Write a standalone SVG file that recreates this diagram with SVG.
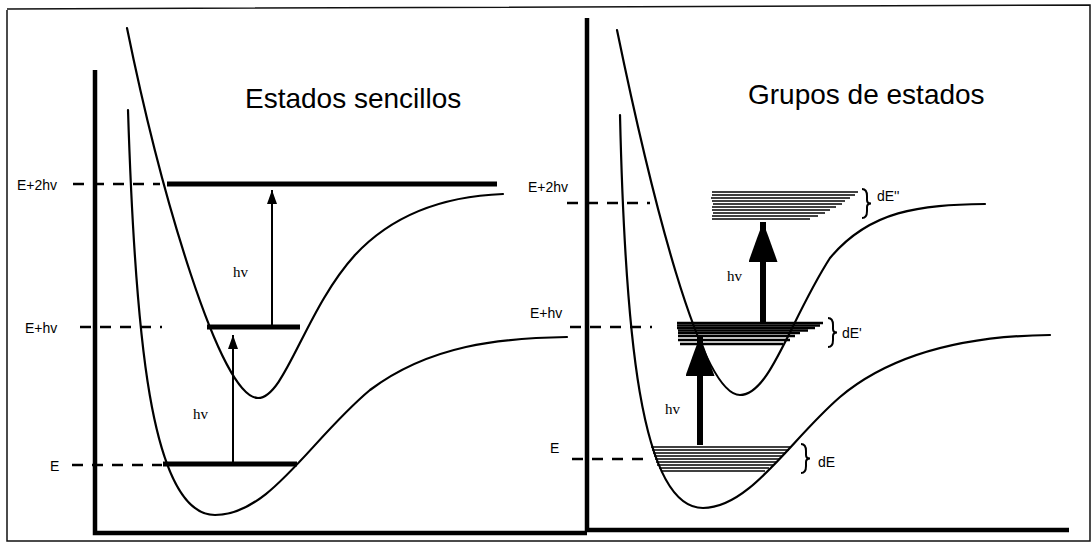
<svg xmlns="http://www.w3.org/2000/svg" width="1091" height="545" viewBox="0 0 1091 545">
<defs>
<style>
.frame{fill:none;stroke:#111;stroke-width:1.5}
.axis{fill:none;stroke:#000;stroke-width:4.5;stroke-linecap:butt}
.curve{fill:none;stroke:#000;stroke-width:2.2;stroke-linecap:round}
.level{fill:none;stroke:#000;stroke-width:5}
.dash{fill:none;stroke:#000;stroke-width:2.5;stroke-dasharray:11 9}
.band line{stroke:#000;stroke-width:1.6}
.dense line{stroke:#000;stroke-width:2.4}
.thin{fill:none;stroke:#000;stroke-width:2}
.thick{fill:none;stroke:#000;stroke-width:6}
.brace{fill:none;stroke:#000;stroke-width:2}
.lbl{font-family:"Liberation Sans",Arial,sans-serif;font-size:14px;fill:#000}
.hv{font-family:"Liberation Serif","Times New Roman",serif;font-size:15px;fill:#000}
.title{font-family:"Liberation Sans",Arial,sans-serif;font-size:28px;fill:#000}
</style>
<marker id="ah-thin" viewBox="0 0 14 10" refX="14" refY="5" markerWidth="14" markerHeight="10" markerUnits="userSpaceOnUse" orient="auto">
<path d="M0,0 L14,5 L0,10 z" fill="#000"/>
</marker>
<marker id="ah-thick" viewBox="0 0 40 29" refX="40" refY="14.5" markerWidth="40" markerHeight="29" markerUnits="userSpaceOnUse" orient="auto">
<path d="M0,0 Q20,7 40,14.5 Q20,22 0,29 z" fill="#000"/>
</marker>
</defs>
<rect width="1091" height="545" fill="#fff"/>
<g id="frame">
<path class="frame" d="M7,10 L7,541 L1090,541 L1090,5 L7,9"/>
</g>
<g id="panel-left">
<path class="axis" d="M95,70 L95,533 L587,533"/>
<text class="title" x="245" y="108">Estados sencillos</text>
<path id="left-upper-curve" class="curve" d="M127,28 C160,190 220,398 258,398 C285,398 305,310 355,255 C395,212 450,196 503,194"/>
<path id="left-lower-curve" class="curve" d="M128,110 C135,330 150,515 215,515 C270,515 310,440 370,390 C430,345 500,338 567,337"/>
</g>
<g id="left-level-E2hv">
<text class="lbl" x="17" y="190">E+2hv</text>
<line class="dash" x1="73" y1="184" x2="160" y2="184"/>
<line class="level" x1="167" y1="184" x2="497" y2="184"/>
</g>
<g id="left-level-Ehv">
<text class="lbl" x="25" y="333">E+hv</text>
<line class="dash" x1="80" y1="327" x2="162" y2="327"/>
<line class="level" x1="207" y1="327" x2="300" y2="327"/>
</g>
<g id="left-level-E">
<text class="lbl" x="50" y="471">E</text>
<line class="dash" x1="72" y1="465" x2="162" y2="465"/>
<line class="level" x1="163" y1="464" x2="297" y2="464"/>
</g>
<g id="panel-right">
<path class="axis" d="M587,18 L587,530 L1069,530"/>
<text class="title" x="748" y="104">Grupos de estados</text>
<path id="right-upper-curve" class="curve" d="M617,30 C650,190 700,395 740,395 C770,395 790,320 830,258 C870,210 920,205 985,204"/>
<path id="right-lower-curve" class="curve" d="M620,115 C625,330 640,508 703,508 C750,508 790,440 840,397 C890,355 960,336 1050,335"/>
</g>
<g id="right-level-E2hv">
<text class="lbl" x="528" y="192">E+2hv</text>
<line class="dash" x1="567" y1="203" x2="650" y2="203"/>
<g class="band">
<line x1="712" y1="192" x2="858" y2="192"/>
<line x1="712" y1="195" x2="855" y2="195"/>
<line x1="711" y1="198" x2="850" y2="198"/>
<line x1="712" y1="201" x2="845" y2="201"/>
<line x1="713" y1="204" x2="842" y2="204"/>
<line x1="712" y1="207" x2="836" y2="207"/>
<line x1="712" y1="210" x2="830" y2="210"/>
<line x1="713" y1="213" x2="825" y2="213"/>
<line x1="712" y1="216" x2="818" y2="216"/>
<line x1="712" y1="219" x2="810" y2="219"/>
</g>
<path class="brace" d="M862,189 Q867,189 867,196 L867,200 Q867,203.5 871,203.5 Q867,203.5 867,207 L867,211 Q867,218 862,218"/>
<text class="lbl" x="877" y="201">dE''</text>
</g>
<g id="right-level-Ehv">
<text class="lbl" x="530" y="318">E+hv</text>
<line class="dash" x1="570" y1="327" x2="652" y2="327"/>
<g class="dense">
<line x1="677" y1="323" x2="823" y2="323"/>
<line x1="677" y1="325.5" x2="820" y2="325.5"/>
<line x1="677" y1="328" x2="815" y2="328"/>
<line x1="678" y1="330.5" x2="808" y2="330.5"/>
<line x1="678" y1="333" x2="800" y2="333"/>
<line x1="678" y1="336" x2="795" y2="336"/>
<line x1="678" y1="340" x2="790" y2="340"/>
<line x1="680" y1="344" x2="783" y2="344"/>
</g>
<path class="brace" d="M828,318 Q833,318 833,325 L833,329 Q833,332.5 837,332.5 Q833,332.5 833,336 L833,340 Q833,347 828,347"/>
<text class="lbl" x="842" y="338">dE'</text>
</g>
<g id="right-level-E">
<text class="lbl" x="550" y="453">E</text>
<line class="dash" x1="572" y1="459" x2="650" y2="459"/>
<g class="band">
<line x1="651" y1="447" x2="791" y2="447"/>
<line x1="652" y1="450" x2="789" y2="450"/>
<line x1="653" y1="453" x2="786" y2="453"/>
<line x1="654" y1="456" x2="783" y2="456"/>
<line x1="655" y1="459" x2="780" y2="459"/>
<line x1="656" y1="462" x2="777" y2="462"/>
<line x1="657" y1="465" x2="773" y2="465"/>
<line x1="659" y1="468" x2="769" y2="468"/>
<line x1="661" y1="471" x2="765" y2="471"/>
</g>
<path class="brace" d="M801,444 Q806,444 806,451 L806,455 Q806,458.5 810,458.5 Q806,458.5 806,462 L806,466 Q806,473 801,473"/>
<text class="lbl" x="818" y="467">dE</text>
</g>
<g id="connectors">
<line class="thin" x1="233" y1="462" x2="233" y2="335" marker-end="url(#ah-thin)"/>
<line class="thin" x1="272" y1="325" x2="272" y2="190" marker-end="url(#ah-thin)"/>
<line class="thick" x1="700" y1="445" x2="700" y2="336" marker-end="url(#ah-thick)"/>
<line class="thick" x1="763" y1="322" x2="763" y2="222" marker-end="url(#ah-thick)"/>
<text class="hv" x="233" y="277">hv</text>
<text class="hv" x="193" y="419">hv</text>
<text class="hv" x="727" y="281">hv</text>
<text class="hv" x="665" y="414">hv</text>
</g>
</svg>
